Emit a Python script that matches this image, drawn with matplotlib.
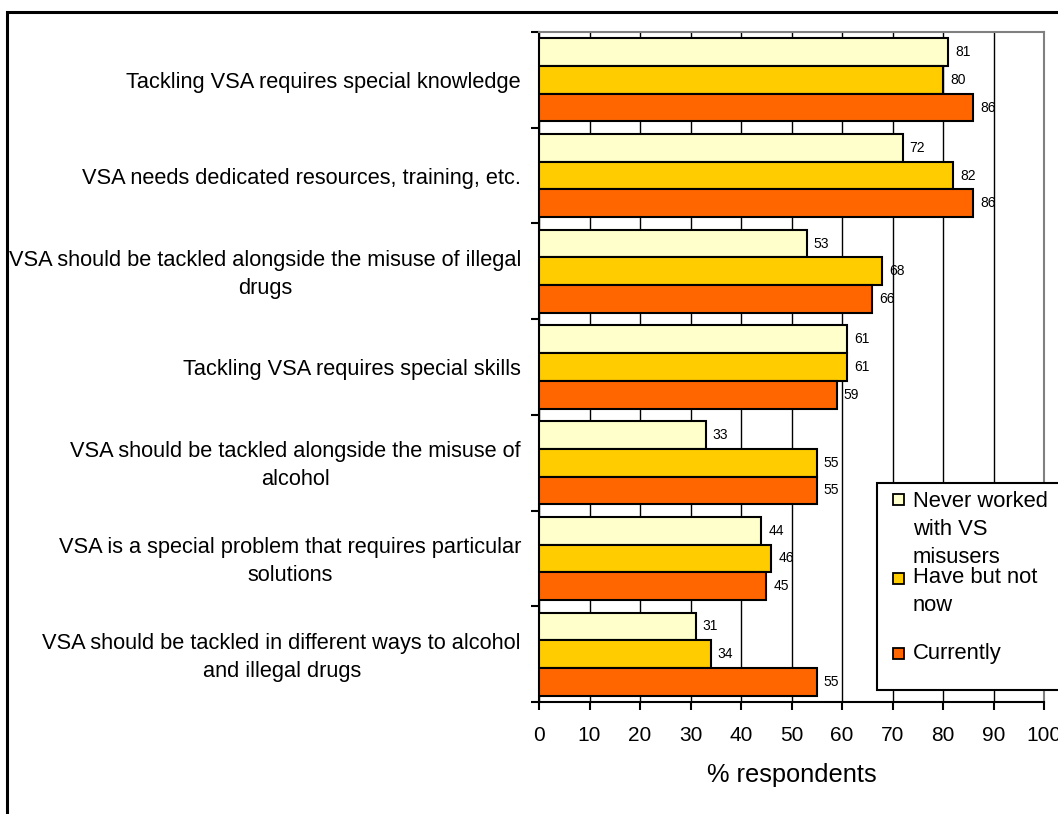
import matplotlib
matplotlib.use("Agg")
import matplotlib.pyplot as plt
from matplotlib.patches import Rectangle
import matplotlib.transforms as mtransforms
import numpy as np

plt.rcParams['font.family'] = ['Liberation Sans', 'DejaVu Sans']

categories = [
    "Tackling VSA requires special knowledge",
    "VSA needs dedicated resources, training, etc.",
    "VSA should be tackled alongside the misuse of illegal\ndrugs",
    "Tackling VSA requires special skills",
    "VSA should be tackled alongside the misuse of\nalcohol",
    "VSA is a special problem that requires particular\nsolutions",
    "VSA should be tackled in different ways to alcohol\nand illegal drugs",
]
never_worked = [81, 72, 53, 61, 33, 44, 31]
have_not_now = [80, 82, 68, 61, 55, 46, 34]
currently = [86, 86, 66, 59, 55, 45, 55]
series_labels = ["Never worked\nwith VS\nmisusers", "Have but not\nnow", "Currently"]
colors = ["#FFFFCC", "#FFCC00", "#FF6600"]
x_ticks = [0, 10, 20, 30, 40, 50, 60, 70, 80, 90, 100]

W, H = 1058, 814
fig = plt.figure(figsize=(W / 100, H / 100), dpi=100)

def fx(px):
    return px / W

def fy(py):
    return 1 - py / H

ax_l, ax_r, ax_t, ax_b = 539, 1044, 32, 702
ax = fig.add_axes([fx(ax_l), fy(ax_b), fx(ax_r - ax_l), (ax_b - ax_t) / H])

n = len(categories)
y = np.arange(n)
h = 0.29
series = [never_worked, have_not_now, currently]
for k, (vals, col) in enumerate(zip(series, colors)):
    yy = y + (k - 1) * h
    ax.barh(yy, vals, height=h, color=col, edgecolor='black', linewidth=1.5, zorder=3)
    for yi, v in zip(yy, vals):
        ax.annotate(str(v), (v, yi), xytext=(5, 0), textcoords='offset points',
                    va='center', ha='left', fontsize=10, zorder=4)

ax.set_xlim(0, 100)
ax.set_ylim(n - 0.5, -0.5)
ax.set_xticks(x_ticks)
ax.set_xticklabels([str(t) for t in x_ticks], fontsize=15)
ax.tick_params(axis='x', direction='out', length=6, width=1.5, pad=11)
ax.set_yticks(np.arange(n + 1) - 0.5)
ax.set_yticklabels([])
ax.tick_params(axis='y', which='major', direction='out', length=6, width=1.5)
ax.set_yticks(y, minor=True)
ax.set_yticklabels(categories, minor=True, fontsize=15.7, multialignment='center',
                   linespacing=1.45)
ax.tick_params(axis='y', which='minor', length=0, pad=0)

single_off = mtransforms.ScaledTranslation(-18 / 100, 0, fig.dpi_scale_trans)
multi_off = mtransforms.ScaledTranslation(-18 / 100, -3 / 100, fig.dpi_scale_trans)
for lab in ax.get_yticklabels(minor=True):
    lab.set_horizontalalignment('right')
    if "\n" in lab.get_text():
        lab.set_verticalalignment('center')
        lab.set_transform(lab.get_transform() + multi_off)
    else:
        lab.set_transform(lab.get_transform() + single_off)

ax.grid(axis='x', color='black', linewidth=1.0, zorder=0)
ax.set_axisbelow(True)
ax.spines['left'].set_linewidth(1.5)
ax.spines['bottom'].set_linewidth(1.5)
ax.spines['top'].set_color('#808080')
ax.spines['right'].set_color('#808080')
ax.spines['top'].set_linewidth(1.5)
ax.spines['right'].set_linewidth(1.5)

ax.set_xlabel("% respondents", fontsize=18.3, labelpad=13)

# outer frame
fig.patches.append(Rectangle((fx(7), fy(830)), fx(1080 - 7), (830 - 12) / H,
                             transform=fig.transFigure, fill=False,
                             edgecolor='black', linewidth=2.2, zorder=0))

# legend (manual)
leg = Rectangle((fx(877), fy(690)), fx(1080 - 877), (690 - 483) / H,
                transform=fig.transFigure, facecolor='white', edgecolor='black',
                linewidth=1.5, zorder=10)
fig.patches.append(leg)
marker_y = [499, 578, 653]
text_y = [501, 577, 653]
for lbl, col, my, ty in zip(series_labels, colors, marker_y, text_y):
    fig.patches.append(Rectangle((fx(893), fy(my + 6)), fx(11), 11 / H,
                                 transform=fig.transFigure, facecolor=col,
                                 edgecolor='black', linewidth=1.3, zorder=11))
    fig.text(fx(913), fy(ty - 9.6), lbl, fontsize=15.8, va='top', ha='left',
             linespacing=1.42, zorder=12)

fig.savefig("out.png", dpi=100)
